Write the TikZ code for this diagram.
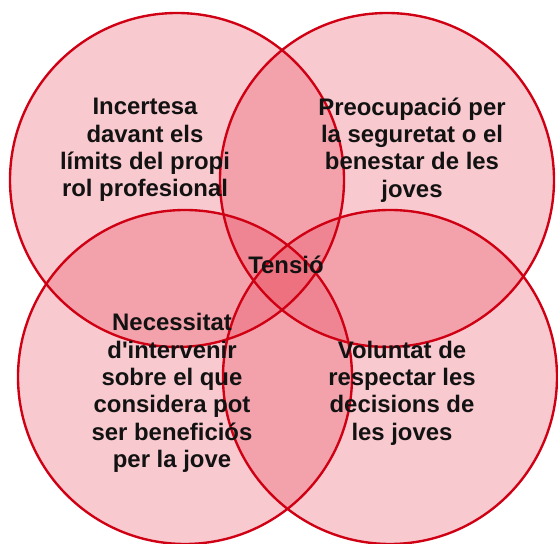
\documentclass[tikz,border=0pt]{standalone}
\usepackage{fontspec}
\setmainfont{Liberation Sans}
\usepackage{tikz}
\definecolor{vennred}{RGB}{208,0,20}
\definecolor{vennfill}{RGB}{230,60,80}

\begin{document}
\begin{tikzpicture}[
            venn/.style = {fill = vennfill, fill opacity = 0.28, draw = none},
            vennline/.style = {draw = vennred, line width = 1.35pt},
            label/.style = {align = center, text = black!93, font = \fontsize{13.6}{15.6}\selectfont\bfseries}
        ]
            \useasboundingbox (0,0) rectangle (11.16,10.88);
            \coordinate (tl) at (3.54,7.28);
            \coordinate (tr) at (7.74,7.28);
            \coordinate (bl) at (3.70,3.34);
            \coordinate (br) at (7.80,3.34);
            \foreach \c in {tl,tr,bl,br} {
                \fill[venn] (\c) circle(3.34);
            }
            \foreach \c in {tl,tr,bl,br} {
                \draw[vennline] (\c) circle(3.34);
            }
            \node[label] (incertesa) at (2.90,7.88) {Incertesa\\davant els\\límits del propi\\rol profesional};
            \node[label] (preocupacio) at (8.24,7.88) {Preocupació per\\la seguretat o el\\benestar de les\\joves};
            \node[label] (necessitat) at (3.44,3.02) {Necessitat\\d\textquotesingle intervenir\\sobre el que\\considera pot\\ser beneficiós\\per la jove};
            \node[label] (voluntat) at (8.04,3.02) {Voluntat de\\respectar les\\decisions de\\les joves};
            \node[label] (tensio) at (5.72,5.58) {Tensió};
        \end{tikzpicture}
\end{document}
